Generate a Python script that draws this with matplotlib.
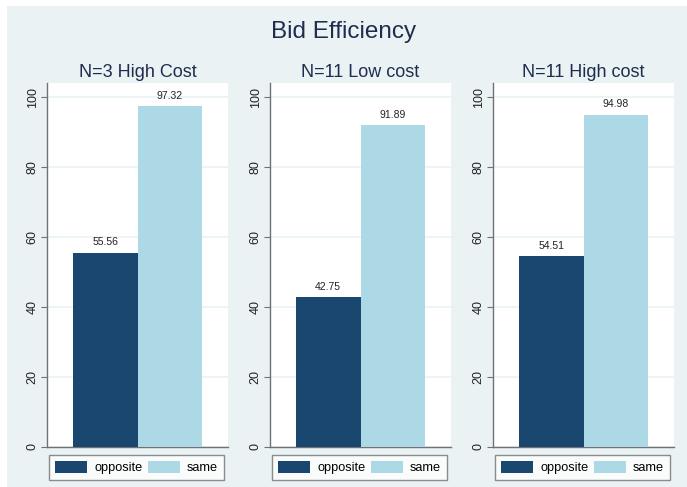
import numpy as np
import matplotlib.pyplot as plt

plt.rcParams['font.family'] = ['Liberation Sans', 'DejaVu Sans']

panels = ['N=3 High Cost', 'N=11 Low cost', 'N=11 High cost']
series = ['opposite', 'same']
opposite = [55.56, 42.75, 54.51]
same = [97.32, 91.89, 94.98]
yticks = [0, 20, 40, 60, 80, 100]

navy = '#1a476f'
light = '#add8e6'
bg = '#eaf2f3'
axis_gray = '#6e7274'

W, H = 687, 487
fig = plt.figure(figsize=(W / 100, H / 100), dpi=100)
fig.patch.set_facecolor('white')
# graph region
fig.patches.append(plt.Rectangle((7 / W, 0), 1 - 7 / W, 1 - 6 / H,
                                 transform=fig.transFigure, facecolor=bg,
                                 edgecolor='none', zorder=-10))

fig.text(0.5, 1 - 32 / H, 'Bid Efficiency', ha='center', va='center',
         fontsize=17.5, color='#1e2d4f')

lefts = [47, 270, 493]
for i, name in enumerate(panels):
    ax = fig.add_axes([lefts[i] / W, (H - 447) / H, 181 / W, (447 - 83) / H])
    ax.set_facecolor('white')
    vals = [opposite[i], same[i]]
    bars = ax.bar([-0.5, 0.5], vals, width=1.0, color=[navy, light], zorder=3)
    for b, v in zip(bars, vals):
        ax.annotate('{:.2f}'.format(v), (b.get_x() + b.get_width() / 2, v),
                    xytext=(0, 4), textcoords='offset points',
                    ha='center', va='bottom', fontsize=7.5, color='#222222')
    ax.set_xlim(-1.403, 1.403)
    ax.set_ylim(0, 104)
    ax.set_yticks(yticks)
    ax.set_yticklabels([str(t) for t in yticks], rotation=90, va='center',
                       fontsize=9, color='#222222')
    ax.set_xticks([])
    for t in yticks:
        ax.axhline(t, color=bg, linewidth=1.2, zorder=1)
    for s in ['top', 'right']:
        ax.spines[s].set_visible(False)
    for s in ['left', 'bottom']:
        ax.spines[s].set_color(axis_gray)
        ax.spines[s].set_linewidth(1.0)
    ax.tick_params(axis='y', length=4, color=axis_gray, pad=2)
    ax.set_title(name, fontsize=13, color='#1e2d4f', pad=4.5)

    handles = [plt.Rectangle((0, 0), 1, 1, facecolor=navy),
               plt.Rectangle((0, 0), 1, 1, facecolor=light)]
    leg = ax.legend(handles, series, loc='upper center',
                    bbox_to_anchor=(0.495, -0.022), ncol=2, fontsize=9.2,
                    frameon=True, fancybox=False, edgecolor=axis_gray,
                    handlelength=2.5, handleheight=1.1, columnspacing=0.45,
                    handletextpad=0.55, borderpad=0.45, borderaxespad=0)
    leg.get_frame().set_linewidth(1.0)

fig.savefig('out.png', dpi=100, facecolor=fig.get_facecolor())
